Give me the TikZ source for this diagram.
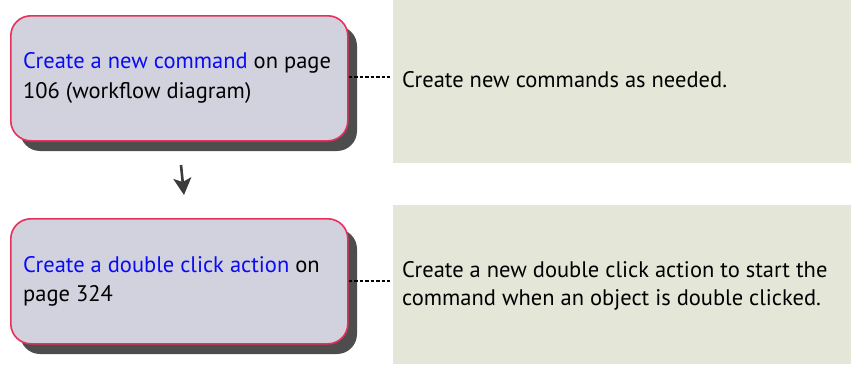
\documentclass[tikz,border=0pt]{standalone}
\usepackage{fontspec}
\usetikzlibrary{arrows.meta}
\setmainfont{PT Sans}
\definecolor{boxfill}{HTML}{D2D2DE}
\definecolor{boxline}{HTML}{E8305A}
\definecolor{shadowc}{HTML}{4D4D4D}
\definecolor{panelfill}{HTML}{E4E6D8}
\definecolor{linkblue}{HTML}{0A0AF5}
\definecolor{arrowc}{HTML}{3C3C3C}
\tikzset{
  stepbox/.style={draw=boxline, line width=1.6pt, fill=boxfill, rounded corners=20pt},
  shadowbox/.style={fill=shadowc, rounded corners=20pt},
  panel/.style={fill=panelfill, draw=none},
  txt/.style={anchor=base west, inner sep=0pt, font=\fontsize{22.5}{29}\selectfont, text=black},
  link/.style={dash pattern=on 3.5pt off 2pt, line width=1.1pt, black},
}
\begin{document}
\begin{tikzpicture}[x=1pt,y=-1pt]
\useasboundingbox (0,0) rectangle (851,364);
% panels
\fill[panel] (393,0) rectangle (851,163);
\fill[panel] (393,205) rectangle (851,364);
% shadows
\fill[shadowbox] (20,26) rectangle (357,151);
\fill[shadowbox] (20,229) rectangle (357,354);
% boxes
\node[stepbox, minimum width=337pt, minimum height=125pt, anchor=north west] (b1) at (10,15) {};
\node[stepbox, minimum width=337pt, minimum height=125pt, anchor=north west] (b2) at (10,218) {};
% box texts
\node[txt] (t1a) at (23,68) {\textcolor{linkblue}{Create a new command} on page};
\node[txt] (t1b) at (23,98) {106 (workflow diagram)};
\node[txt] (t2a) at (23,272) {\textcolor{linkblue}{Create a double click action} on};
\node[txt] (t2b) at (23,301) {page 324};
% panel texts
\node[txt] (p1) at (402,87) {Create new commands as needed.};
\node[txt] (p2a) at (402,277) {Create a new double click action to start the};
\node[txt] (p2b) at (402,305) {command when an object is double clicked.};
% connectors
\coordinate (c1) at (390,77);
\coordinate (c2) at (390,281);
\draw[link] (b1.east |- c1) -- (c1);
\draw[link] (b2.east |- c2) -- (c2);
% arrow
\coordinate (a0) at (181,165);
\coordinate (a1) at (184,195);
\draw[arrowc, line width=2.6pt, -{Stealth[length=17pt,width=18pt,inset=4pt]}] (a0) -- (a1);
\end{tikzpicture}
\end{document}
